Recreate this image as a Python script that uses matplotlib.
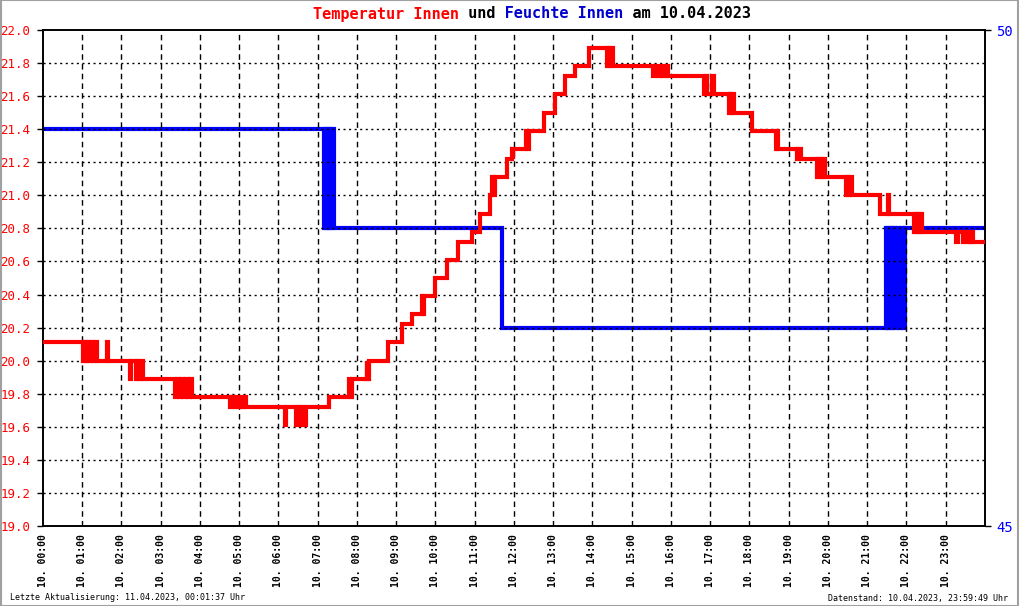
import matplotlib.pyplot as plt
from matplotlib.patches import Rectangle

# Temperatur Innen (linke Achse) - Zeitpunkte und Werte, Stufenverlauf
temp_times = [
    "00:00", "01:01", "01:03", "01:06", "01:08", "01:10", "01:13", "01:16", "01:19", "01:23",
    "01:38", "01:40", "02:13", "02:15", "02:22", "02:24", "02:27", "02:30", "02:33",
    "03:22", "03:25", "03:28", "03:31", "03:34", "03:38", "03:42", "03:45", "03:48",
    "04:46", "04:48", "04:52", "04:55", "04:58", "05:02", "05:05", "05:08", "05:10",
    "06:10", "06:12", "06:27", "06:29", "06:33", "06:35", "06:38", "06:42",
    "07:17", "07:48", "07:50", "07:52", "08:15", "08:16", "08:18",
    "08:48", "09:09", "09:24", "09:40", "09:41", "09:43", "09:59",
    "10:17", "10:35", "10:56", "11:08", "11:24", "11:27", "11:29", "11:31",
    "11:49", "11:57", "11:58", "11:59", "12:18", "12:20", "12:23",
    "12:46", "13:03", "13:18", "13:34", "13:55",
    "14:22", "14:24", "14:26", "14:28", "14:32",
    "15:33", "15:36", "15:40", "15:44", "15:48", "15:52", "15:56", "15:59",
    "16:51", "16:53", "16:55", "17:03", "17:05",
    "17:28", "17:30", "17:32", "17:34", "17:36",
    "18:04", "18:40", "18:42", "18:44",
    "19:12", "19:14", "19:18",
    "19:43", "19:45", "19:47", "19:49", "19:51", "19:53", "19:56",
    "20:27", "20:29", "20:31", "20:33", "20:37",
    "21:20", "21:31", "21:33",
    "22:12", "22:14", "22:16", "22:18", "22:20", "22:22", "22:24",
    "23:16", "23:19", "23:26", "23:28", "23:33", "23:35", "23:37", "23:40", "23:42",
    "24:00",
]
temp_values = [
    20.11, 20.00, 20.11, 20.00, 20.11, 20.00, 20.11, 20.00, 20.11, 20.00,
    20.11, 20.00, 19.89, 20.00, 19.89, 20.00, 19.89, 20.00, 19.89,
    19.78, 19.89, 19.78, 19.89, 19.78, 19.89, 19.78, 19.89, 19.78,
    19.72, 19.78, 19.72, 19.78, 19.72, 19.78, 19.72, 19.78, 19.72,
    19.61, 19.72, 19.61, 19.72, 19.61, 19.72, 19.61, 19.72,
    19.78, 19.89, 19.78, 19.89, 20.00, 19.89, 20.00,
    20.11, 20.22, 20.28, 20.39, 20.28, 20.39, 20.50,
    20.61, 20.72, 20.78, 20.89, 21.00, 21.11, 21.00, 21.11,
    21.22, 21.28, 21.22, 21.28, 21.39, 21.28, 21.39,
    21.50, 21.61, 21.72, 21.78, 21.89,
    21.78, 21.89, 21.78, 21.89, 21.78,
    21.72, 21.78, 21.72, 21.78, 21.72, 21.78, 21.72, 21.72,
    21.61, 21.72, 21.61, 21.72, 21.61,
    21.50, 21.61, 21.50, 21.61, 21.50,
    21.39, 21.28, 21.39, 21.28,
    21.22, 21.28, 21.22,
    21.11, 21.22, 21.11, 21.22, 21.11, 21.22, 21.11,
    21.00, 21.11, 21.00, 21.11, 21.00,
    20.89, 21.00, 20.89,
    20.78, 20.89, 20.78, 20.89, 20.78, 20.89, 20.78,
    20.72, 20.78, 20.72, 20.78, 20.72, 20.78, 20.72, 20.78, 20.72,
    20.72,
]

# Feuchte Innen (rechte Achse)
hum_times = [
    "00:00", "07:09", "07:11", "07:13", "07:15", "07:17", "07:19", "07:21", "07:23", "07:25", "07:26",
    "11:42", "21:28", "21:30", "21:32", "21:34", "21:36", "21:38", "21:40",
    "21:43", "21:46", "21:49", "21:52", "21:55", "21:57", "24:00",
]
hum_values = [
    49, 48, 49, 48, 49, 48, 49, 48, 49, 48, 48,
    47, 48, 47, 48, 47, 48, 47, 48,
    47, 48, 47, 48, 47, 48, 48,
]

temp_ticks = [19.0, 19.2, 19.4, 19.6, 19.8, 20.0, 20.2, 20.4, 20.6, 20.8,
              21.0, 21.2, 21.4, 21.6, 21.8, 22.0]
hour_ticks = list(range(24))
hour_labels = [f"10. {h:02d}:00" for h in hour_ticks]


def to_hours(s):
    h, m = s.split(":")
    return int(h) + int(m) / 60


temp_x = [to_hours(t) for t in temp_times]
hum_x = [to_hours(t) for t in hum_times]

fig = plt.figure(figsize=(10.2, 6.06), dpi=100)
ax = fig.add_axes([43 / 1020, 1 - 526 / 606, 942 / 1020, 496 / 606])
ax2 = ax.twinx()
ax.set_zorder(ax2.get_zorder() + 1)
ax.patch.set_visible(False)

# Feuchte hinten
ax2.plot(hum_x, hum_values, drawstyle="steps-post", color="#0000ff",
         linewidth=3, solid_joinstyle="miter", solid_capstyle="butt")
ax2.set_ylim(45, 50)
ax2.set_yticks([45, 50])
ax2.tick_params(axis="y", color="black", labelcolor="#0000ff", length=4,
                width=1, pad=4, labelsize=10)
for lab in ax2.get_yticklabels():
    lab.set_fontfamily("DejaVu Sans Mono")

# Temperatur vorne
ax.plot(temp_x, temp_values, drawstyle="steps-post", color="#ff0000",
        linewidth=3, solid_joinstyle="miter", solid_capstyle="butt", zorder=3)
ax.set_xlim(0, 24)
ax.set_ylim(19.0, 22.0)
ax.set_yticks(temp_ticks)
ax.set_yticklabels([f"{v:.1f}" for v in temp_ticks], fontfamily="DejaVu Sans Mono",
                   fontsize=9, color="#ff0000")
ax.set_xticks(hour_ticks)
ax.set_xticklabels(hour_labels, rotation=90, fontfamily="DejaVu Sans Mono",
                   fontsize=7, fontweight="bold", va="top")
ax.tick_params(axis="y", length=4, width=1, pad=5)
ax.tick_params(axis="x", length=0, pad=6)

# Raster: senkrecht gestrichelt, waagerecht gepunktet
for h in hour_ticks[1:]:
    ax.axvline(h, color="black", linewidth=1, linestyle=(0, (4, 3)), zorder=2)
for v in temp_ticks[1:-1]:
    ax.axhline(v, color="black", linewidth=1, linestyle=(0, (1.5, 2.5)), zorder=2)

for a in (ax, ax2):
    for sp in a.spines.values():
        sp.set_color("black")
        sp.set_linewidth(1.2)

# Titel in Farben (Monospace, Teile übereinander)
title = "Temperatur Innen und Feuchte Innen am 10.04.2023"
parts = [
    ("Temperatur Innen", "#ff0000"),
    (" und ", "black"),
    ("Feuchte Innen", "#0000cc"),
    (" am 10.04.2023", "black"),
]
pos = 0
for txt, col in parts:
    masked = " " * pos + txt + " " * (len(title) - pos - len(txt))
    fig.text(532 / 1020, 1 - 14 / 606, masked, color=col, ha="center", va="center",
             fontfamily="DejaVu Sans Mono", fontsize=11, fontweight="bold")
    pos += len(txt)

fig.text(10 / 1020, 1 - 598 / 606, "Letzte Aktualisierung: 11.04.2023, 00:01:37 Uhr",
         ha="left", va="center", fontfamily="DejaVu Sans Mono", fontsize=6)
fig.text(1008 / 1020, 1 - 598 / 606, "Datenstand: 10.04.2023, 23:59:49 Uhr",
         ha="right", va="center", fontfamily="DejaVu Sans Mono", fontsize=6)

# grauer Bildrahmen
fig.patches.append(Rectangle((0.0005, 0.0008), 0.998, 0.9984, transform=fig.transFigure,
                             fill=False, edgecolor="#a0a0a0", linewidth=1.5))

fig.savefig("out.png", dpi=100)
